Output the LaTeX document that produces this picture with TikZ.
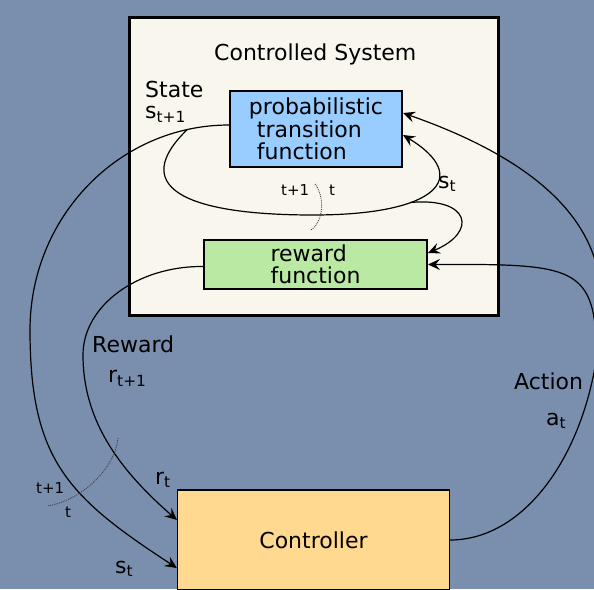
\documentclass[tikz,border=0pt]{standalone}
\usepackage{fontspec}
\setmainfont{DejaVu Sans}
\usetikzlibrary{arrows.meta}

\definecolor{slate}{RGB}{122,143,173}
\definecolor{paper}{RGB}{249,247,237}
\definecolor{skyblue}{RGB}{153,204,255}
\definecolor{mintgreen}{RGB}{185,233,163}
\definecolor{sand}{RGB}{255,217,143}

\tikzset{
  big/.style={font=\fontsize{22}{22.5}\selectfont},
  tiny/.style={font=\fontsize{15}{15}\selectfont},
  block/.style={draw,rectangle,inner sep=0pt,big},
  lbl/.style={inner sep=0pt,anchor=base west},
  flow/.style={line width=1.2pt,-{Stealth[length=12pt,width=11pt,inset=4.5pt]}},
  timecut/.style={densely dotted,line width=0.9pt,black!75},
}

\begin{document}
\begin{tikzpicture}[x=1pt,y=-1pt]

      \useasboundingbox (0,0) rectangle (594,589);
      \clip (0,0) rectangle (594,589);
      \fill[slate] (0,0) rectangle (594,589);

      \node[block,line width=3pt,fill=paper,minimum width=369pt,minimum height=298pt] (sys) at (314,166) {};
      \node[block,line width=2pt,fill=skyblue,minimum width=172pt,minimum height=76pt,align=left] (ptf) at (316,129)
        {probabilistic\\\hspace*{8pt}transition\\\hspace*{8pt}function};
      \node[block,line width=2pt,fill=mintgreen,minimum width=223pt,minimum height=49pt,align=left] (rwf) at (315.5,264.5)
        {reward\\function};
      \node[block,line width=1.2pt,fill=sand,minimum width=272pt,minimum height=100pt] (ctrl) at (313.5,540) {Controller};

      \begin{scope}[every node/.style={lbl,big}]
        \node (title)  at (214,60)  {Controlled System};
        \node (state)  at (145,97)  {State};
        \node (snext)  at (145,118) {s\textsubscript{t+1}};
        \node (sin)    at (438,188) {s\textsubscript{t}};
        \node (reward) at (92,352)  {Reward};
        \node (rnext)  at (108,382) {r\textsubscript{t+1}};
        \node (rnow)   at (155,484) {r\textsubscript{t}};
        \node (snow)   at (115,573) {s\textsubscript{t}};
        \node (action) at (514,389) {Action};
        \node (anow)   at (546,425) {a\textsubscript{t}};
      \end{scope}

      \begin{scope}[every node/.style={lbl,tiny}]
        \node (tpa) at (281,195) {t+1};
        \node (tca) at (329,195) {t};
        \node (tpb) at (36,493)  {t+1};
        \node (tcb) at (65,517)  {t};
      \end{scope}

      % state feedback
      \draw[flow] ([yshift=4pt]ptf.west) .. controls (119,125) and (30,217) .. (30,330) coordinate[pos=0.13] (split)
        .. controls (30,460) and (68,497) .. ([yshift=-28pt]ctrl.west);
      \draw[flow] (split) .. controls (130,185) and (180,215) .. (313,215)
        .. controls (438,215) and (472,177) .. ([yshift=-6pt]ptf.east) coordinate[pos=0.35] (fork);
      \draw[flow] (fork) .. controls (470,197) and (478,232) .. ([yshift=11.5pt]rwf.east);

      % action
      \draw[flow] (ctrl.east) .. controls (534,540) and (601,432) .. (601,300) coordinate[pos=0.85] (join)
        .. controls (601,210) and (517,153) .. ([yshift=16pt]ptf.east);
      \draw[flow] (join) .. controls (596,265) and (575,264) .. (rwf.east);

      % reward
      \draw[flow] ([yshift=-2pt]rwf.west) .. controls (137,266) and (83,306) .. (83,355)
        .. controls (83,425) and (124.5,474) .. ([yshift=20pt]ctrl.west);

      \draw[timecut] (315,184) .. controls (324,195) and (325,220) .. (311,230);
      \draw[timecut] (118,438) .. controls (116,465) and (85,500) .. (47,506);

\end{tikzpicture}
\end{document}
